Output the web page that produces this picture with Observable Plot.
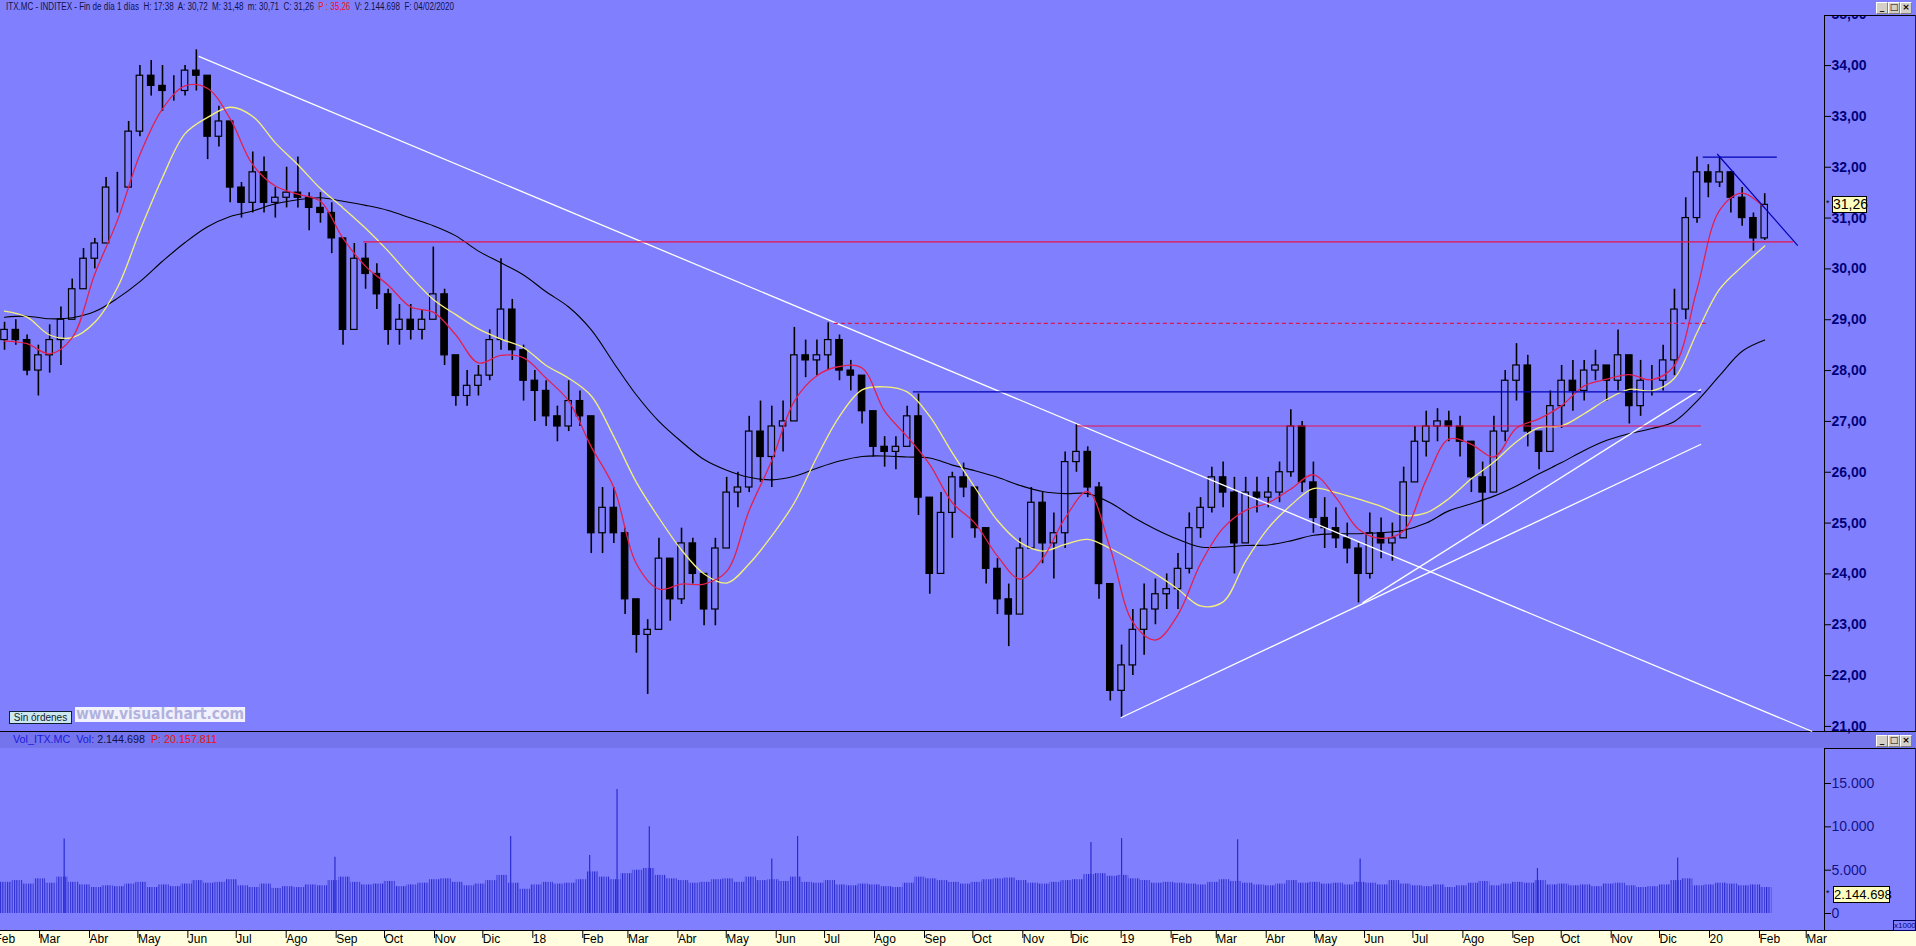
<!DOCTYPE html>
<html><head><meta charset="utf-8">
<script src="https://cdn.jsdelivr.net/npm/d3@7"></script>
<script src="https://cdn.jsdelivr.net/npm/@observablehq/plot@0.6"></script>
<style>
html,body{margin:0;padding:0;background:#8080ff;overflow:hidden}
#root{position:relative;width:1916px;height:946px;background:#8080ff;font-family:"Liberation Sans",Arial,sans-serif;overflow:hidden}
.abs{position:absolute;white-space:nowrap}
svg{position:absolute;left:0}
</style></head><body><div id="root"></div>
<script>
// ---------------- DATA ----------------
const firstWeek = "2017-02-06", lastWeekEnd = "2020-02-04";
const openFirst = 28.6;
const wkHigh = [28.95,29.0,28.7,28.5,28.9,29.25,29.8,30.4,30.6,31.8,
31.9,32.9,34.0,34.1,34.0,33.8,34.0,34.31,33.8,33.2,
32.9,31.7,32.3,32.2,31.6,32.0,32.2,31.5,31.5,31.3,
30.2,30.5,30.5,30.1,29.6,29.3,29.3,29.2,30.43,29.6,
28.0,28.0,28.1,28.8,30.2,29.4,28.5,28.0,27.8,27.3,
27.8,27.6,27.1,25.7,25.7,24.9,23.4,23.1,24.7,24.3,
24.9,24.7,23.9,24.7,25.9,26.0,27.1,27.4,27.3,27.4,
28.85,28.6,28.6,28.94,28.7,28.2,27.9,27.0,26.7,26.7,
27.3,27.54,25.3,25.6,26.0,26.18,25.7,24.8,24.3,23.8,
24.7,25.7,25.6,25.2,26.4,26.95,26.5,25.8,23.2,22.6,
23.3,23.8,23.9,24.0,24.4,25.2,25.5,26.1,26.2,25.9,
25.9,25.9,25.9,26.2,27.23,27.0,26.2,25.5,25.3,25.0,
24.6,25.2,25.1,25.0,26.1,26.9,27.2,27.25,27.2,27.1,
26.6,26.2,27.1,28.0,28.53,28.3,26.7,27.6,28.1,28.2,
28.2,28.4,28.1,28.8,28.3,28.2,28.1,28.5,29.6,31.4,
32.2,32.05,32.2,31.9,31.6,31.1,31.48];
const wkLow = [28.4,28.5,27.9,27.5,27.95,28.1,29.0,29.6,30.0,30.6,
31.1,31.8,32.6,33.4,33.1,33.3,33.4,33.5,32.15,32.4,
31.3,31.0,31.1,31.1,31.0,31.2,31.2,30.75,30.9,30.3,
28.5,28.9,29.6,29.2,28.5,28.5,28.6,28.6,29.0,28.1,
27.3,27.3,27.5,27.8,28.4,28.2,27.4,27.0,26.9,26.6,
26.8,26.9,24.4,24.4,24.6,23.2,22.44,21.63,22.9,23.07,
23.4,23.8,22.98,22.98,24.5,25.3,25.6,25.8,25.7,26.4,
27.0,27.86,27.9,28.0,27.8,27.6,26.95,26.3,26.1,26.05,
26.5,25.15,23.6,24.0,24.7,25.5,24.7,23.8,23.2,22.57,
23.3,24.5,24.2,23.9,24.5,26.0,25.5,23.5,21.5,21.17,
22.0,22.4,23.0,23.3,23.3,24.0,24.7,25.2,25.3,24.0,
24.6,25.2,25.3,25.4,25.9,25.6,24.8,24.5,24.5,24.2,
23.43,23.9,24.3,24.25,24.7,25.8,26.3,26.6,26.6,26.3,
25.6,24.97,25.6,26.6,27.4,26.5,26.05,26.4,26.86,27.2,
27.4,27.8,27.4,27.6,26.95,27.1,27.5,27.6,27.9,29.0,
30.9,31.4,31.6,31.1,30.84,30.35,30.56];
const wkClose = [28.8,28.6,28.0,28.3,28.6,29.0,29.6,30.2,30.5,31.6,
31.6,32.7,33.8,33.6,33.5,33.5,33.9,33.8,32.6,32.9,
31.6,31.3,31.9,31.3,31.4,31.5,31.4,31.2,31.1,30.6,
28.8,30.2,29.9,29.5,28.8,29.0,28.8,29.0,29.5,28.3,
27.5,27.7,27.9,28.6,29.2,28.4,27.8,27.6,27.1,26.9,
27.4,27.1,24.8,25.3,24.8,23.5,22.8,22.9,24.3,23.5,
24.6,24.0,23.3,24.5,25.6,25.7,26.8,26.3,26.9,27.0,
28.3,28.2,28.3,28.6,28.0,27.9,27.2,26.5,26.4,26.5,
27.1,25.5,24.0,25.2,25.9,25.7,24.9,24.1,23.5,23.2,
24.5,25.4,24.6,24.8,26.2,26.4,25.7,23.8,21.7,22.2,
22.9,23.3,23.6,23.7,24.1,24.9,25.3,25.9,25.6,24.6,
25.6,25.5,25.6,26.0,26.9,25.8,25.1,24.9,24.7,24.5,
24.0,24.8,24.6,24.7,25.8,26.6,26.9,27.0,26.9,26.6,
25.9,25.6,26.8,27.8,28.1,26.8,26.4,27.3,27.8,27.6,
28.0,28.1,27.8,28.3,27.3,27.8,27.8,28.2,29.2,31.0,
31.9,31.7,31.9,31.4,31.0,30.6,31.26];
// moving averages read every second week
const maShort = [28.58,28.53,28.33,28.65,29.9,30.95,32.25,33.15,33.6,33.55,
32.95,32.05,31.63,31.47,31.33,30.6,30.05,29.68,29.25,29.15,
28.7,28.15,28.3,28.25,27.85,27.4,26.5,25.7,24.2,23.7,
23.8,23.8,24.05,25.25,26.23,27.4,27.9,28.08,28.05,27.2,
26.7,26.15,25.4,25.0,24.35,23.9,24.3,25.1,25.62,24.5,
23.05,22.7,23.2,24.2,24.9,25.25,25.4,25.67,25.95,25.5,
24.88,24.7,24.85,25.85,26.65,26.55,26.3,26.87,27.05,27.31,
27.7,27.83,27.92,27.82,28.1,29.6,31.15,31.49,31.2];
const maMid = [29.17,29.05,28.7,28.65,28.95,29.63,30.75,31.8,32.66,32.98,
33.18,33.0,32.48,32.05,31.58,31.2,30.8,30.35,29.85,29.4,
29.1,28.82,28.62,28.45,28.1,27.85,27.5,26.7,25.8,25.1,
24.47,24.0,23.82,24.2,24.75,25.4,26.3,27.1,27.62,27.68,
27.58,27.1,26.38,25.7,25.05,24.62,24.45,24.58,24.68,24.5,
24.26,24.0,23.7,23.37,23.45,24.25,24.9,25.35,25.68,25.6,
25.47,25.33,25.15,25.2,25.48,25.87,26.2,26.6,26.88,26.91,
27.15,27.43,27.63,27.6,27.85,28.75,29.6,30.05,30.45];
const maLong = [29.05,29.07,29.02,29.04,29.16,29.42,29.75,30.15,30.52,30.83,
31.03,31.14,31.28,31.36,31.4,31.33,31.25,31.15,31.0,30.85,
30.65,30.35,30.12,29.88,29.55,29.25,28.8,28.15,27.52,27.0,
26.6,26.25,26.04,25.9,25.85,25.92,26.08,26.22,26.31,26.32,
26.3,26.28,26.14,26.03,25.9,25.74,25.62,25.58,25.58,25.4,
25.12,24.88,24.68,24.53,24.53,24.56,24.57,24.65,24.76,24.79,
24.79,24.81,24.86,25.0,25.24,25.38,25.53,25.73,25.97,26.19,
26.43,26.63,26.76,26.86,27.0,27.4,27.9,28.38,28.6];
// drawn lines: [from, price, to, price, kind]
const drawnFrom  = ["2017-06-09","2019-01-02","2019-06-01","2018-08-26","2018-12-06","2018-07-08","2017-09-19","2019-12-29","2020-01-07"];
const drawnP1    = [34.18,21.17,23.43,27.58,26.91,28.93,30.53,32.2,32.26];
const drawnTo    = ["2020-03-06","2019-12-28","2019-12-28","2019-12-28","2019-12-28","2020-01-01","2020-02-23","2020-02-13","2020-02-26"];
const drawnP2    = [20.90,26.55,27.63,27.58,26.91,28.93,30.53,32.2,30.46];
const drawnKind  = ["tendencia","tendencia","tendencia","azul","rojo","rojo punteado","rojo","azul","azul"];
// volume (millions of shares) per week, and single-day peaks
const volWeek = [3.6,3.8,3.4,4.0,3.5,4.2,3.6,3.3,3.0,3.2,
3.1,3.4,3.6,3.0,3.3,3.1,3.4,3.8,3.5,3.6,
3.9,3.2,3.0,3.4,2.9,3.1,3.0,3.3,3.2,3.8,
4.2,3.6,3.3,3.4,3.7,3.1,3.3,3.5,3.9,4.0,
3.6,3.2,3.4,3.8,4.4,3.5,2.8,3.3,3.6,3.4,
3.5,3.9,4.8,4.2,3.9,4.6,5.0,5.2,4.4,4.0,
3.8,3.5,3.6,3.9,4.0,3.6,4.2,3.8,3.9,3.7,
4.2,3.6,3.5,3.8,3.3,3.2,3.4,3.3,3.1,3.0,
3.5,4.2,4.0,3.8,3.6,3.4,3.6,3.9,4.0,4.1,
3.8,3.5,3.4,3.6,3.8,3.9,4.5,4.6,4.3,4.4,
4.0,3.8,3.5,3.6,3.5,3.4,3.3,3.6,3.9,3.7,
3.5,3.3,3.2,3.4,3.8,3.5,3.6,3.4,3.5,3.3,
3.6,3.5,3.3,3.8,3.4,3.2,3.1,3.3,3.0,3.2,
3.5,3.7,3.2,3.4,3.6,3.5,3.8,3.3,3.4,3.2,
3.3,3.1,3.4,3.5,3.2,3.0,3.1,3.3,3.8,4.0,
3.2,3.3,3.5,3.4,3.2,3.3,3.0];
const volPeakDates = ["2017-03-17","2017-09-01","2017-12-19","2018-02-06","2018-02-23","2018-03-15","2018-05-30","2018-06-15","2018-12-14","2019-01-02","2019-03-15","2019-05-30","2019-09-17","2019-12-13"];
const volPeakValues = [8.6,6.5,8.9,6.7,14.3,10.0,6.3,8.9,8.2,8.65,8.5,6.3,5.2,6.4];
const lastVolume = 2.144698;
const monthNames = ["Ene","Feb","Mar","Abr","May","Jun","Jul","Ago","Sep","Oct","Nov","Dic"];
const priceTicks = [21,22,23,24,25,26,27,28,29,30,31,32,33,34,35];
const volTicks = [0,5,10,15];

// ---------------- BUILD ----------------
const BG = "#8080ff";
const root = document.getElementById("root");
function div(style, html){const d=document.createElement("div");d.className="abs";Object.assign(d.style,style);if(html!=null)d.innerHTML=html;root.appendChild(d);return d;}
function fit(el,w){const r=el.getBoundingClientRect().width;if(r>0){el.style.transformOrigin="left center";el.style.transform=`scaleX(${w/r})`;}}

const DAY = 864e5;
const xDomain = [new Date("2017-02-06T00:00:00Z"), new Date("2020-03-13T14:00:00Z")];
const mondays = d3.utcMonday.range(new Date(firstWeek), new Date(lastWeekEnd));
const candles = mondays.map((m,i)=>({
  x1:new Date(+m+0.5*DAY), x2:new Date(+m+4.5*DAY), mid:new Date(+m+2.5*DAY),
  open: i ? wkClose[i-1] : openFirst, high:wkHigh[i], low:wkLow[i], close:wkClose[i]
}));
const maDates = mondays.filter((_,i)=>i%2===0).map(m=>new Date(+m+2.5*DAY));
const maRows = (arr)=>arr.map((v,i)=>({date:maDates[i], v}));
const drawn = drawnFrom.map((f,i)=>({x1:new Date(f),y1:drawnP1[i],x2:new Date(drawnTo[i]),y2:drawnP2[i],kind:drawnKind[i]}));
const vols = mondays.map((m,i)=>({x1:m,x2:new Date(+m+7*DAY),v:volWeek[i]}));
const peaks = volPeakDates.map((d,i)=>({date:new Date(d+"T12:00:00Z"),v:volPeakValues[i]}));
const monthTicks = d3.utcMonth.range(new Date("2017-02-01"), new Date("2020-03-02"));
const fmtMonth = d => d.getUTCMonth()===0 ? String(d.getUTCFullYear()).slice(2) : monthNames[d.getUTCMonth()];
const fmtPrice = d => d.toFixed(2).replace(".",",");
const fmtThousands = v => d3.format(",")(v).replace(/,/g,".");

// backgrounds
div({left:"0",top:"0",width:"1916px",height:"731px",background:BG});
div({left:"0",top:"731px",width:"1916px",height:"1px",background:"#000"});
div({left:"0",top:"732px",width:"1916px",height:"16px",background:"#7474ec"});
div({left:"0",top:"748px",width:"1916px",height:"182px",background:BG});
div({left:"0",top:"930px",width:"1916px",height:"16px",background:"#ffffe0"});

const font = "Liberation Sans, Arial, sans-serif";
const pricePlot = Plot.plot({
  width:1916, height:731, marginLeft:0, marginRight:92, marginTop:0, marginBottom:0,
  style:{background:"transparent", fontFamily:font, overflow:"visible"},
  x:{type:"utc", domain:xDomain, axis:null},
  y:{domain:[20.90,35.28], axis:null},
  marks:[
    Plot.ruleX(candles,{x:"mid", y1:"low", y2:"high", stroke:"#000", strokeWidth:1.6}),
    Plot.rect(candles,{x1:"x1", x2:"x2", y1:"open", y2:"close", fill:d=>d.close>=d.open?BG:"#000", stroke:"#000", strokeWidth:1.2}),
    Plot.line(maRows(maLong),{x:"date", y:"v", stroke:"#000", strokeWidth:1.1, curve:"catmull-rom"}),
    Plot.line(maRows(maMid),{x:"date", y:"v", stroke:"#f4f07a", strokeWidth:1.3, curve:"catmull-rom"}),
    Plot.line(maRows(maShort),{x:"date", y:"v", stroke:"#e0204e", strokeWidth:1.3, curve:"catmull-rom"}),
    Plot.link(drawn.filter(d=>d.kind==="tendencia"),{x1:"x1",y1:"y1",x2:"x2",y2:"y2",stroke:"#ffffff",strokeWidth:1.3}),
    Plot.link(drawn.filter(d=>d.kind==="azul"),{x1:"x1",y1:"y1",x2:"x2",y2:"y2",stroke:"#0000b4",strokeWidth:1.2}),
    Plot.link(drawn.filter(d=>d.kind==="rojo"),{x1:"x1",y1:"y1",x2:"x2",y2:"y2",stroke:"#e8104a",strokeWidth:1.2}),
    Plot.link(drawn.filter(d=>d.kind==="rojo punteado"),{x1:"x1",y1:"y1",x2:"x2",y2:"y2",stroke:"#d81850",strokeWidth:1.2,strokeDasharray:"4,3"}),
    Plot.axisY({anchor:"right", label:null, ticks:priceTicks, tickFormat:fmtPrice, tickSize:6, tickPadding:1, fontSize:14, fontWeight:"bold", fill:"#000078", stroke:"#000"})
  ]
});
pricePlot.style.top="0px";
root.appendChild(pricePlot);

const volPlot = Plot.plot({
  width:1916, height:198, marginLeft:0, marginRight:92, marginTop:0, marginBottom:16,
  style:{background:"transparent", fontFamily:font, overflow:"visible"},
  x:{type:"utc", domain:xDomain, axis:null},
  y:{domain:[-1.96,19.04], axis:null},
  marks:[
    Plot.rect(vols,{x1:"x1",x2:"x2",y1:0,y2:"v",fill:"url(#vstripe)"}),
    Plot.ruleX(peaks,{x:"date",y1:0,y2:"v",stroke:"#2a2ad0",strokeWidth:1.2}),
    Plot.axisY({anchor:"right", label:null, ticks:volTicks, tickFormat:d=>fmtThousands(d*1000), tickSize:6, tickPadding:1, fontSize:14, fill:"#12128a", stroke:"#000"}),
    Plot.axisX({anchor:"bottom", label:null, ticks:monthTicks, tickFormat:fmtMonth, tickSize:8, tickPadding:-4, textAnchor:"start", dx:2, fontSize:12, fill:"#000", stroke:"#000"})
  ]
});
volPlot.style.top="748px";
const defs = document.createElementNS("http://www.w3.org/2000/svg","defs");
defs.innerHTML = `<pattern id="vstripe" patternUnits="userSpaceOnUse" width="2.33" height="20"><rect x="0" y="0" width="1.1" height="20" fill="#2a2ad0"/></pattern>`;
volPlot.insertBefore(defs, volPlot.firstChild);
root.appendChild(volPlot);

// frames of the right scales
div({left:"1824px",top:"0",width:"92px",height:"15px",background:BG});
div({left:"1824px",top:"15px",width:"1px",height:"716px",background:"#000"});
div({left:"1824px",top:"15px",width:"92px",height:"1px",background:"#000"});
div({left:"1915px",top:"15px",width:"1px",height:"716px",background:"#202060"});
div({left:"1824px",top:"748px",width:"1px",height:"182px",background:"#000"});
div({left:"1824px",top:"748px",width:"92px",height:"1px",background:"#000"});
div({left:"1915px",top:"748px",width:"1px",height:"182px",background:"#202060"});
div({left:"0",top:"930px",width:"1916px",height:"1px",background:"#000"});

function winButtons(top){
  ["_","&#9633;","&#215;"].forEach((g,i)=>{
    div({left:(1876+i*12)+"px",top:top+"px",width:"10px",height:"10px",background:"#d4d0c8",border:"1px solid #808080",
      borderTopColor:"#fff",borderLeftColor:"#fff",font:"bold 9px DejaVu Sans, sans-serif",lineHeight:"9px",textAlign:"center",color:"#000"},g);
  });
}
winButtons(2); winButtons(735);

// header texts
const hdr = div({left:"6px",top:"1px",font:"10px "+font,lineHeight:"12px",color:"#101048"},
 'ITX.MC - INDITEX - Fin de día 1 días&nbsp; H: 17:38&nbsp; A: 30,72&nbsp; M: 31,48&nbsp; m: 30,71&nbsp; C: 31,26&nbsp; <span style="color:#f01010">P : 35,26</span>&nbsp; V: 2.144.698&nbsp; F: 04/02/2020');
fit(hdr,448);
const vh = div({left:"13px",top:"734px",font:"10px "+font,lineHeight:"12px"},
 '<span style="color:#1a1ae0">Vol_ITX.MC&nbsp; Vol:</span> <span style="color:#101048">2.144.698</span>&nbsp; <span style="color:#f01010">P: 20.157.811</span>');
fit(vh,204);

// Sin órdenes + watermark
div({left:"9px",top:"711px",width:"61px",height:"11px",background:"#cce8ee",border:"1px solid #102030",font:"10px "+font,lineHeight:"11px",textAlign:"center",color:"#102030"},"Sin órdenes");
const wm = div({left:"75px",top:"707px",height:"15px",background:"#f2f2ff",font:"bold 15px DejaVu Sans, sans-serif",lineHeight:"15px",color:"#b2b2de",padding:"0 1px"},"www.visualchart.com");
fit(wm,170);

// last value boxes positioned through the scales
const lastClose = wkClose[wkClose.length-1];
const yP = pricePlot.scale("y").apply(lastClose);
div({left:"1826px",top:(yP-6)+"px",font:"9px "+font,color:"#000"},"*");
div({left:"1832px",top:(yP-8)+"px",width:"33px",height:"15px",background:"#ffffc0",border:"1px solid #000",font:"14px "+font,lineHeight:"15px",textAlign:"center",color:"#000"},fmtPrice(lastClose));
const yV = 748 + volPlot.scale("y").apply(lastVolume);
div({left:"1826px",top:(yV-6)+"px",font:"9px "+font,color:"#000"},"*");
div({left:"1833px",top:(yV-8)+"px",width:"55px",height:"15px",background:"#ffffc0",border:"1px solid #000",font:"13px "+font,lineHeight:"15px",textAlign:"center",color:"#000"},fmtThousands(Math.round(lastVolume*1e6)));
div({left:"1893px",top:"920px",width:"21px",height:"9px",border:"1px solid #000060",font:"8px "+font,lineHeight:"9px",textAlign:"center",color:"#000080"},"x1000");
</script></body></html>
